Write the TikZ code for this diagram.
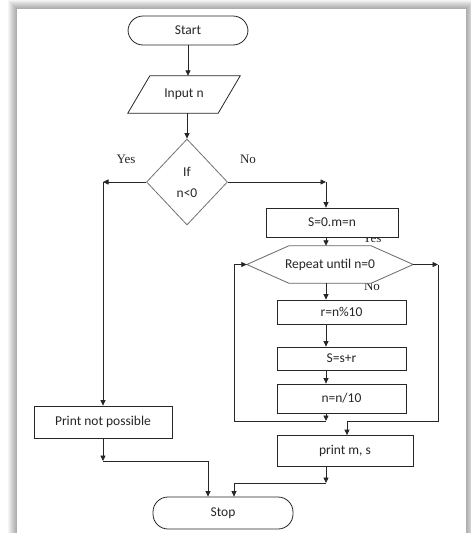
\documentclass[tikz,border=0pt]{standalone}
\usepackage{fontspec}
\setmainfont{Carlito}
\newfontfamily\lblfont{Liberation Serif}
\usetikzlibrary{shapes.geometric,arrows.meta,calc}
\begin{document}
\begin{tikzpicture}[x=1pt,y=-1pt,
  every node/.style={font=\fontsize{13.5}{16}\selectfont, inner sep=0pt, text=black!85},
  line/.style={draw=black!85, line width=0.8pt},
  arr/.style={line, -{Triangle[length=5.5pt,width=5pt]}},
  box/.style={draw=black!85, fill=white, line width=0.8pt},
  term/.style={box, rounded corners=15pt},
  lbl/.style={font=\lblfont\fontsize{13}{15}\selectfont, anchor=base}
]
\useasboundingbox (0,0) rectangle (471,533);
\clip (0,0) rectangle (471,533);
% page and shadow
\fill[white] (0,0) rectangle (471,533);
\foreach \i in {1,...,9} {
  \fill[black,opacity=0.04] (17-\i,9-\i) rectangle (466+\i,545);
}
\fill[white] (17,9) rectangle (466,545);

% labels (drawn first, so shapes may cover them)
\node[lbl] (yes1) at (126,163) {Yes};
\node[lbl] (no1) at (248,163) {No};
\node[lbl] (yes2) at (372,242) {Yes};
\node[lbl] (no2) at (372,290) {No};

% nodes
\node[term, minimum width=120pt, minimum height=29pt] (start) at (188,30.5) {Start};
\node[minimum width=90pt, minimum height=37pt] (inp) at (184,94.5) {};
\filldraw[box] ($(inp.north west)+(11,0)$) -- ($(inp.north east)+(11,0)$)
   -- ($(inp.south east)+(-11,0)$) -- ($(inp.south west)+(-11,0)$) -- cycle;
\node at (inp.center) {Input n};
\node[diamond, draw=black!55, fill=white, line width=0.8pt, minimum width=81pt, minimum height=86pt,
      align=center, font=\fontsize{13.5}{21}\selectfont] (dec) at (187,182) {If\\n<0};
\node[box, minimum width=132pt, minimum height=29pt] (s0) at (332,222.5) {S=0.m=n};
\node[minimum width=166pt, minimum height=37pt] (hex) at (330,264.5) {};
\filldraw[box, draw=black!60] (hex.west) -- ($(hex.north west)+(42,0)$) -- ($(hex.north east)+(-42,0)$)
   -- (hex.east) -- ($(hex.south east)+(-42,0)$) -- ($(hex.south west)+(42,0)$) -- cycle;
\node at (hex.center) {Repeat until n=0};
\node[box, minimum width=129pt, minimum height=24pt] (r) at (341.5,312) {r=n\%10};
\node[box, minimum width=129pt, minimum height=23pt] (ss) at (341.5,358.5) {S=s+r};
\node[box, minimum width=129pt, minimum height=29pt] (nn) at (341.5,398.5) {n=n/10};
\node[box, minimum width=136pt, minimum height=31pt] (pm) at (345,451) {print m, s};
\node[box, minimum width=138pt, minimum height=32pt] (pnp) at (103,422) {Print not possible};
\node[term, minimum width=140pt, minimum height=32pt] (stop) at (223,513) {Stop};

% helper coordinates
\coordinate (yc) at (103,182);
\coordinate (nc) at (326,182);
\coordinate (lpL) at (234,421);
\coordinate (lpM) at (326,421);
\coordinate (lpR) at (438,421);
\coordinate (hr) at (438,264.5);
\coordinate (pmin) at (347,421);
\coordinate (j1) at (103,461);
\coordinate (j1e) at (208,461);
\coordinate (j2) at (326,483);
\coordinate (j2e) at (234,483);

% connectors
\draw[arr] (start.south) -- (start.south |- inp.north);
\draw[arr] (dec.north |- inp.south) -- (dec.north);
\draw[arr] (dec.west) -- (yc);
\draw[arr] (yc) -- (pnp.north);
\draw[arr] (dec.east) -- (nc);
\draw[arr] (nc) -- (nc |- s0.north);
\draw[arr] (nc |- s0.south) -- (nc |- hex.north);
\draw[arr] (nc |- hex.south) -- (nc |- r.north);
\draw[arr] (nc |- r.south) -- (nc |- ss.north);
\draw[arr] (nc |- ss.south) -- (nc |- nn.north);
\draw[arr] (nc |- nn.south) -- (lpM);
\draw[arr] (lpM) -- (lpL) -- (lpL |- hex.west) -- (hex.west);
\draw[arr] (hex.east) -- (hr);
\draw[line] (hr) -- (lpR) -- (pmin);
\draw[arr] (pmin) -- (pmin |- pm.north);
\draw[arr] (pnp.south) -- (j1);
\draw[arr] (j1) -- (j1e) -- (j1e |- stop.north);
\draw[arr] (nc |- pm.south) -- (j2);
\draw[arr] (j2) -- (j2e) -- (j2e |- stop.north);
\end{tikzpicture}
\end{document}
